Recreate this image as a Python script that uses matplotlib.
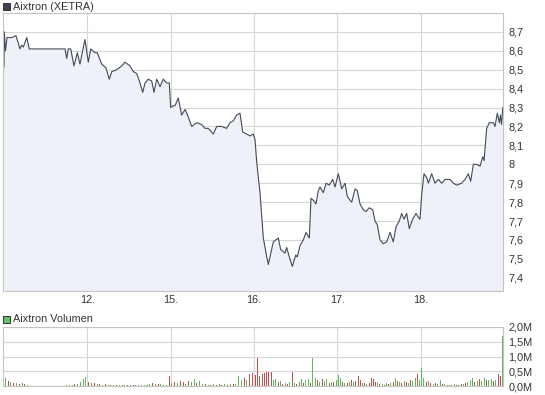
import numpy as np
import matplotlib.pyplot as plt
from matplotlib.patches import Rectangle

plt.rcParams['font.family'] = ['Liberation Sans', 'DejaVu Sans']

# intraday price, time in trading days (0 = 11th, 1 = 12th, 2 = 15th ...)
price_t = [0.00, 0.004, 0.018, 0.036, 0.092, 0.144, 0.192, 0.212, 0.232, 0.273, 0.304,
           0.732, 0.753, 0.772, 0.801, 0.840, 0.880, 0.912, 0.945, 0.972,
           1.012, 1.041, 1.092, 1.120, 1.173, 1.224, 1.264, 1.293, 1.353, 1.413,
           1.453, 1.513, 1.552, 1.593, 1.633, 1.665, 1.693, 1.732, 1.773, 1.801,
           1.833, 1.873, 1.912, 1.953, 1.984,
           2.001, 2.032, 2.053, 2.092, 2.133, 2.173, 2.212, 2.253, 2.313, 2.373,
           2.413, 2.453, 2.513, 2.553, 2.613, 2.673, 2.713, 2.753, 2.793, 2.833,
           2.866, 2.914, 2.953, 2.993,
           3.013, 3.034, 3.073, 3.113, 3.154, 3.173, 3.233, 3.293, 3.321, 3.373,
           3.393, 3.425, 3.461, 3.502, 3.521, 3.553, 3.593, 3.625, 3.665, 3.685,
           3.713, 3.745, 3.773, 3.793, 3.833, 3.866, 3.905, 3.946, 3.974,
           4.013, 4.054, 4.094, 4.121, 4.153, 4.174, 4.214, 4.241, 4.274, 4.313,
           4.345, 4.385, 4.426, 4.454, 4.481, 4.514, 4.553, 4.594, 4.634, 4.673,
           4.706, 4.745, 4.774, 4.802, 4.834, 4.865, 4.906, 4.946, 4.973, 4.994,
           5.014, 5.042, 5.074, 5.094, 5.134, 5.174, 5.214, 5.254, 5.294, 5.354,
           5.394, 5.434, 5.494, 5.534, 5.574, 5.602, 5.634, 5.674, 5.714, 5.747,
           5.763, 5.794, 5.826, 5.855, 5.874, 5.894, 5.922, 5.946, 5.960, 5.972, 5.988]
price = [8.515, 8.70, 8.60, 8.67, 8.67, 8.68, 8.61, 8.63, 8.62, 8.67, 8.61,
         8.61, 8.56, 8.61, 8.61, 8.52, 8.59, 8.53, 8.60, 8.66,
         8.54, 8.61, 8.59, 8.59, 8.53, 8.51, 8.45, 8.49, 8.50, 8.52,
         8.54, 8.52, 8.49, 8.48, 8.43, 8.38, 8.43, 8.45, 8.44, 8.38,
         8.45, 8.41, 8.45, 8.43, 8.43,
         8.30, 8.31, 8.31, 8.35, 8.26, 8.29, 8.25, 8.20, 8.22, 8.21,
         8.19, 8.19, 8.16, 8.20, 8.20, 8.19, 8.22, 8.23, 8.26, 8.27,
         8.17, 8.16, 8.15, 8.16,
         8.13, 8.01, 7.85, 7.61, 7.51, 7.47, 7.59, 7.61, 7.55, 7.53,
         7.56, 7.51, 7.46, 7.52, 7.51, 7.57, 7.60, 7.64, 7.61, 7.82,
         7.81, 7.79, 7.86, 7.88, 7.85, 7.90, 7.89, 7.92, 7.88,
         7.95, 7.87, 7.90, 7.83, 7.81, 7.80, 7.87, 7.86, 7.79, 7.76,
         7.75, 7.77, 7.76, 7.70, 7.68, 7.60, 7.58, 7.59, 7.64, 7.59,
         7.67, 7.70, 7.74, 7.71, 7.74, 7.66, 7.71, 7.74, 7.72, 7.71,
         7.84, 7.95, 7.93, 7.90, 7.95, 7.90, 7.92, 7.90, 7.92, 7.92,
         7.90, 7.89, 7.90, 7.92, 7.95, 7.91, 8.00, 8.00, 7.99, 8.04,
         8.02, 8.19, 8.22, 8.22, 8.22, 8.20, 8.27, 8.22, 8.26, 8.21, 8.30]

day_ticks = [1, 2, 3, 4, 5]
day_labels = ['12.', '15.', '16.', '17.', '18.']
price_ticks = [7.4, 7.5, 7.6, 7.7, 7.8, 7.9, 8.0, 8.1, 8.2, 8.3, 8.4, 8.5, 8.6, 8.7]
vol_ticks = [0, 500, 1000, 1500, 2000]

# volume bars per trading day (thousand shares), g = up, r = down
vol_days = [
    [255, 170, 135, 100, 100, 70, 85, 70, 50, 0, 0, 0, 0, 0, 0, 0, 0, 0, 0, 0,
     0, 0, 35, 45, 35, 55, 70, 135, 230, 300],
    [135, 100, 85, 70, 70, 50, 70, 50, 50, 35, 50, 35, 50, 35, 50, 35, 50, 35, 50, 35,
     50, 50, 70, 100, 70, 70, 70, 50, 35, 350],
    [100, 135, 100, 170, 135, 70, 170, 135, 240, 100, 170, 70, 70, 50, 35, 70, 50, 70, 50, 70,
     50, 70, 70, 70, 340, 200, 270, 200, 400, 440],
    [375, 940, 340, 410, 440, 475, 475, 475, 200, 240, 135, 170, 70, 100, 70, 135, 490, 100, 70, 135,
     240, 100, 200, 240, 100, 960, 270, 200, 135, 240, 170, 240, 100, 135, 135, 200],
    [375, 270, 135, 100, 100, 135, 200, 135, 170, 340, 200, 100, 100, 70, 100, 270, 240, 135, 135, 70,
     70, 50, 100, 70, 100, 135, 270, 170, 135, 100, 170, 135, 100, 200, 170, 270, 410, 200],
    [620, 270, 135, 170, 100, 70, 100, 70, 200, 70, 70, 35, 35, 50, 70, 50, 50, 70, 70, 100,
     135, 200, 270, 135, 170, 240, 170, 270, 200, 200, 240, 170, 200, 410, 340, 1700],
]
vol_dirs = [
    "grgrgrgrgg" + "gggggggggggg" + "grgrgggg",
    "rgrgrgrgrg" + "rgrgrgrrgr" + "grgrgrgrgr",
    "grgrrgrggr" + "ggrgrgrgrg" + "rgrgggrgrr",
    "rrrrrrrrgg" + "rgrgrgrgrg" + "grggrggrgr" + "ggrgrg",
    "ggrgrgrgrr" + "rgrgrrrrgr" + "grgrgrgrgr" + "grgrggrg",
    "ggrgrgrggr" + "grgrgrgrgr" + "gggrgrggrg" + "grgrrg",
]

W, H = 545, 395
fig = plt.figure(figsize=(W / 100, H / 100), dpi=100)


def px_axes(left, top, right, bottom):
    return fig.add_axes([left / W, 1 - bottom / H, (right - left) / W, (bottom - top) / H])


grid_c = '#d6d6d6'
edge_c = '#c4c4c4'
text_c = '#333333'
fs = 7.8


def style(ax):
    for s in ax.spines.values():
        s.set_color(edge_c)
        s.set_linewidth(0.8)
    ax.yaxis.tick_right()
    ax.tick_params(length=0, labelsize=fs, colors=text_c, pad=4)
    ax.set_xticks(day_ticks)
    ax.grid(True, color=grid_c, linewidth=0.8)
    ax.set_axisbelow(True)
    ax.set_xlim(-0.012, 5.99)


# price panel
ax = px_axes(3, 13, 503, 291)
style(ax)
ax.set_ylim(7.33, 8.80)
ax.fill_between(price_t, price, 7.33, color='#eff1f8', linewidth=0)
ax.plot(price_t, price, color='#434a59', linewidth=0.8)
ax.set_yticks(price_ticks)
ax.set_yticklabels([('%g' % round(v, 1)).replace('.', ',') for v in price_ticks])
ax.set_xticklabels(day_labels)
ax.tick_params(axis='x', pad=3)

# volume panel
av = px_axes(3, 327, 503, 386)
style(av)
av.set_ylim(0, 2000)
for d, (vals, dirs) in enumerate(zip(vol_days, vol_dirs)):
    n = len(vals)
    t = d + (np.arange(n) + 0.5) / n
    cols = ['#5cb85c' if c == 'g' else '#c0504d' for c in dirs]
    av.bar(t, vals, width=0.012, color=cols, linewidth=0)
av.set_yticks(vol_ticks)
av.set_yticklabels([('%.1fM' % (v / 1000)).replace('.', ',') for v in vol_ticks])
av.set_xticklabels([])

# legend boxes
for y, col, label in [(3, '#3d4453', 'Aixtron (XETRA)'), (316, '#66c266', 'Aixtron Volumen')]:
    fig.patches.append(Rectangle((3 / W, 1 - (y + 7) / H), 7 / W, 7 / H,
                                 transform=fig.transFigure, facecolor=col,
                                 edgecolor='#333333', linewidth=0.7))
    fig.text(13 / W, 1 - (y + 3.5) / H, label, fontsize=fs, color=text_c, va='center')

plt.savefig('out.png', dpi=100)
